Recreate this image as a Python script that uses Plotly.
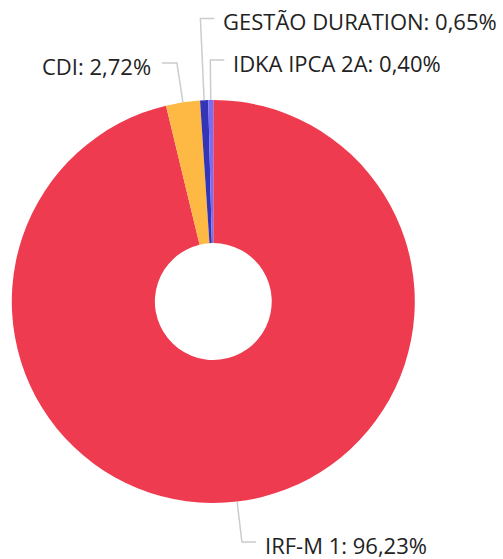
import math
import plotly.graph_objects as go

# ---- data ----
categories = ["IRF-M 1", "CDI", "GESTÃO DURATION", "IDKA IPCA 2A"]
values = [96.23, 2.72, 0.65, 0.40]
colors = ["#EE3B50", "#FDB944", "#3434B6", "#7A6CF3"]

# ---- label leader layout (pixel y of elbow, side of label) ----
elbow_y = [542, 63, 18.5, 60]
label_side = ["right", "left", "right", "right"]

W, H = 503, 559
cx, cy, R = 213.3, 301.5, 201.5
hole = 0.29

def px(x):
    return x / W

def py(y):
    return (H - y) / H

fig = go.Figure(
    go.Pie(
        labels=categories,
        values=values,
        marker=dict(colors=colors, line=dict(width=0)),
        hole=hole,
        sort=False,
        direction="clockwise",
        rotation=0,
        textinfo="none",
        hoverinfo="label+percent",
        showlegend=False,
        domain=dict(x=[px(cx - R), px(cx + R)], y=[py(cy + R), py(cy - R)]),
    )
)

total = sum(values)
shapes = []
annotations = []
acc = 0.0
for name, v, ey, side in zip(categories, values, elbow_y, label_side):
    mid = (acc + v / 2) / total * 2 * math.pi
    acc += v
    dx, dy = math.sin(mid), -math.cos(mid)
    x0, y0 = cx + R * dx, cy + R * dy
    t = (ey - y0) / dy
    x1 = x0 + dx * t
    hl = 14 if side == "right" else -15
    x2 = x1 + hl
    shapes.append(dict(
        type="path", xref="paper", yref="paper",
        path=f"M {px(x0)} {py(y0)} L {px(x1)} {py(ey)} L {px(x2)} {py(ey)}",
        line=dict(color="#CCCCCC", width=1.5),
    ))
    label = f"{name}: {v:.2f}%".replace(".", ",")
    annotations.append(dict(
        x=px(x2 + (7 if side == "right" else -9)), y=py(ey + 3),
        xref="paper", yref="paper", text=label, showarrow=False,
        xanchor="left" if side == "right" else "right", yanchor="middle",
        font=dict(family="Open Sans", size=22, color="#222222"),
    ))

fig.update_layout(
    width=W, height=H,
    margin=dict(l=0, r=0, t=0, b=0),
    paper_bgcolor="white",
    plot_bgcolor="white",
    shapes=shapes,
    annotations=annotations,
)

fig.write_html("out.html", config={"displayModeBar": False},
               post_script="document.body.style.margin='0';")
